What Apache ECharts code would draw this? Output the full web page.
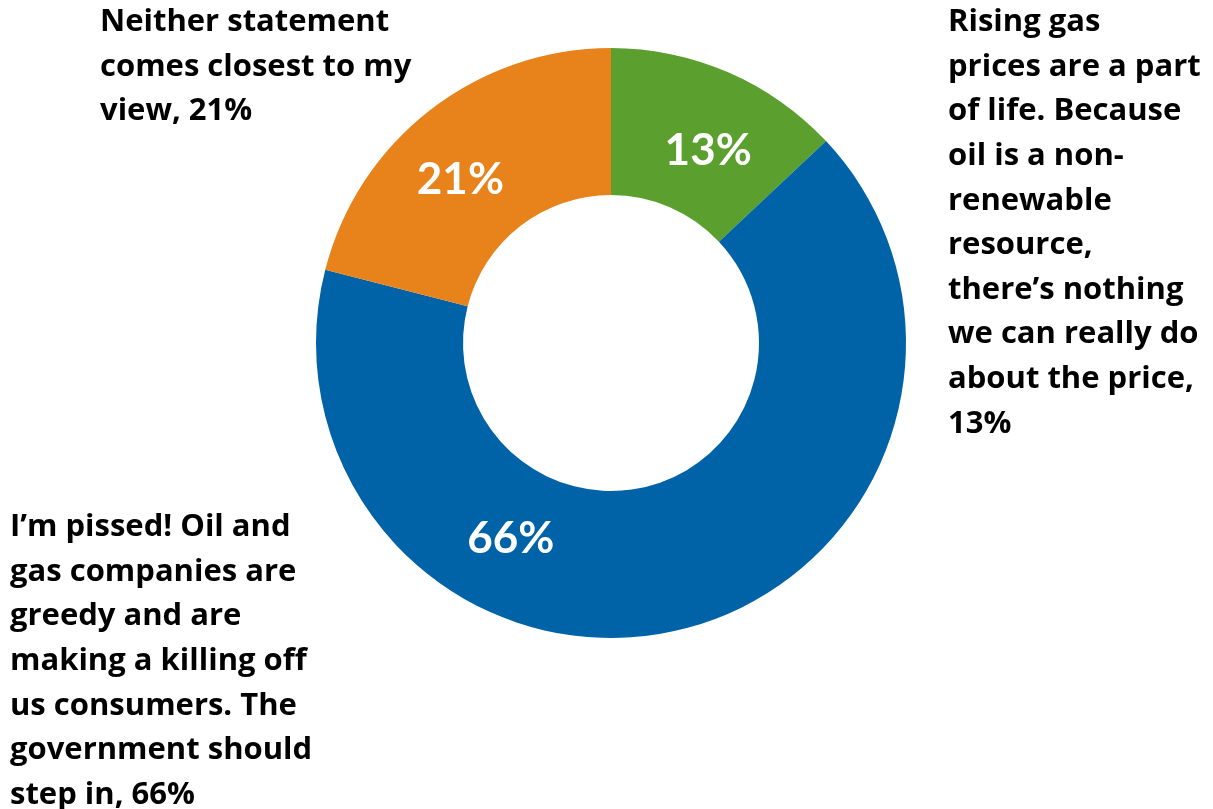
<!DOCTYPE html>
<html>
<head>
<meta charset="utf-8">
<script src="https://cdn.jsdelivr.net/npm/echarts@6/dist/echarts.min.js"></script>
<style>
  html, body { margin: 0; padding: 0; background: #fff; }
  #chart { width: 1213px; height: 809px; }
</style>
</head>
<body>
<div id="chart"></div>
<script>
// answer options, as wrapped in the original
var categories = [
  "Rising gas\nprices are a part\nof life. Because\noil is a non-\nrenewable\nresource,\nthere\u2019s nothing\nwe can really do\nabout the price",
  "I\u2019m pissed! Oil and\ngas companies are\ngreedy and are\nmaking a killing off\nus consumers. The\ngovernment should\nstep in",
  "Neither statement\ncomes closest to my\nview"
];
var shares = [13, 66, 21];
var colors = ["#5b9f2f", "#0063a8", "#e8821a"];

// inside percentage label nudges (px)
var labelOffsets = [[8, 14], [-156, -22], [-13, 14]];
// where each outside text block sits, and how the % is joined on
var blockPos = [[948, 0], [10, 505], [100, 0]];
var joiners = [",\n", ", ", ", "];

var FONT = "'Open Sans', Lato, sans-serif";

var chart = echarts.init(document.getElementById("chart"));

var pieData = shares.map(function (v, i) {
  return {
    name: categories[i],
    value: v,
    itemStyle: { color: colors[i] },
    label: { offset: labelOffsets[i] }
  };
});

var texts = categories.map(function (c, i) {
  return {
    type: "text",
    left: blockPos[i][0],
    top: blockPos[i][1],
    style: {
      text: c + joiners[i] + shares[i] + "%",
      fill: "#000",
      fontFamily: FONT,
      fontWeight: "bold",
      fontSize: 31,
      lineHeight: 44.6
    }
  };
});

chart.setOption({
  animation: false,
  backgroundColor: "#fff",
  graphic: texts,
  series: [
    {
      type: "pie",
      center: [611, 343],
      radius: [148, 295],
      startAngle: 90,
      clockwise: true,
      avoidLabelOverlap: false,
      itemStyle: { borderWidth: 0 },
      label: {
        show: true,
        position: "inside",
        formatter: "{c}%",
        color: "#fff",
        fontFamily: "Lato, sans-serif",
        fontWeight: "bold",
        fontSize: 44
      },
      labelLine: { show: false },
      emphasis: { disabled: true },
      data: pieData
    }
  ]
});
</script>
</body>
</html>
